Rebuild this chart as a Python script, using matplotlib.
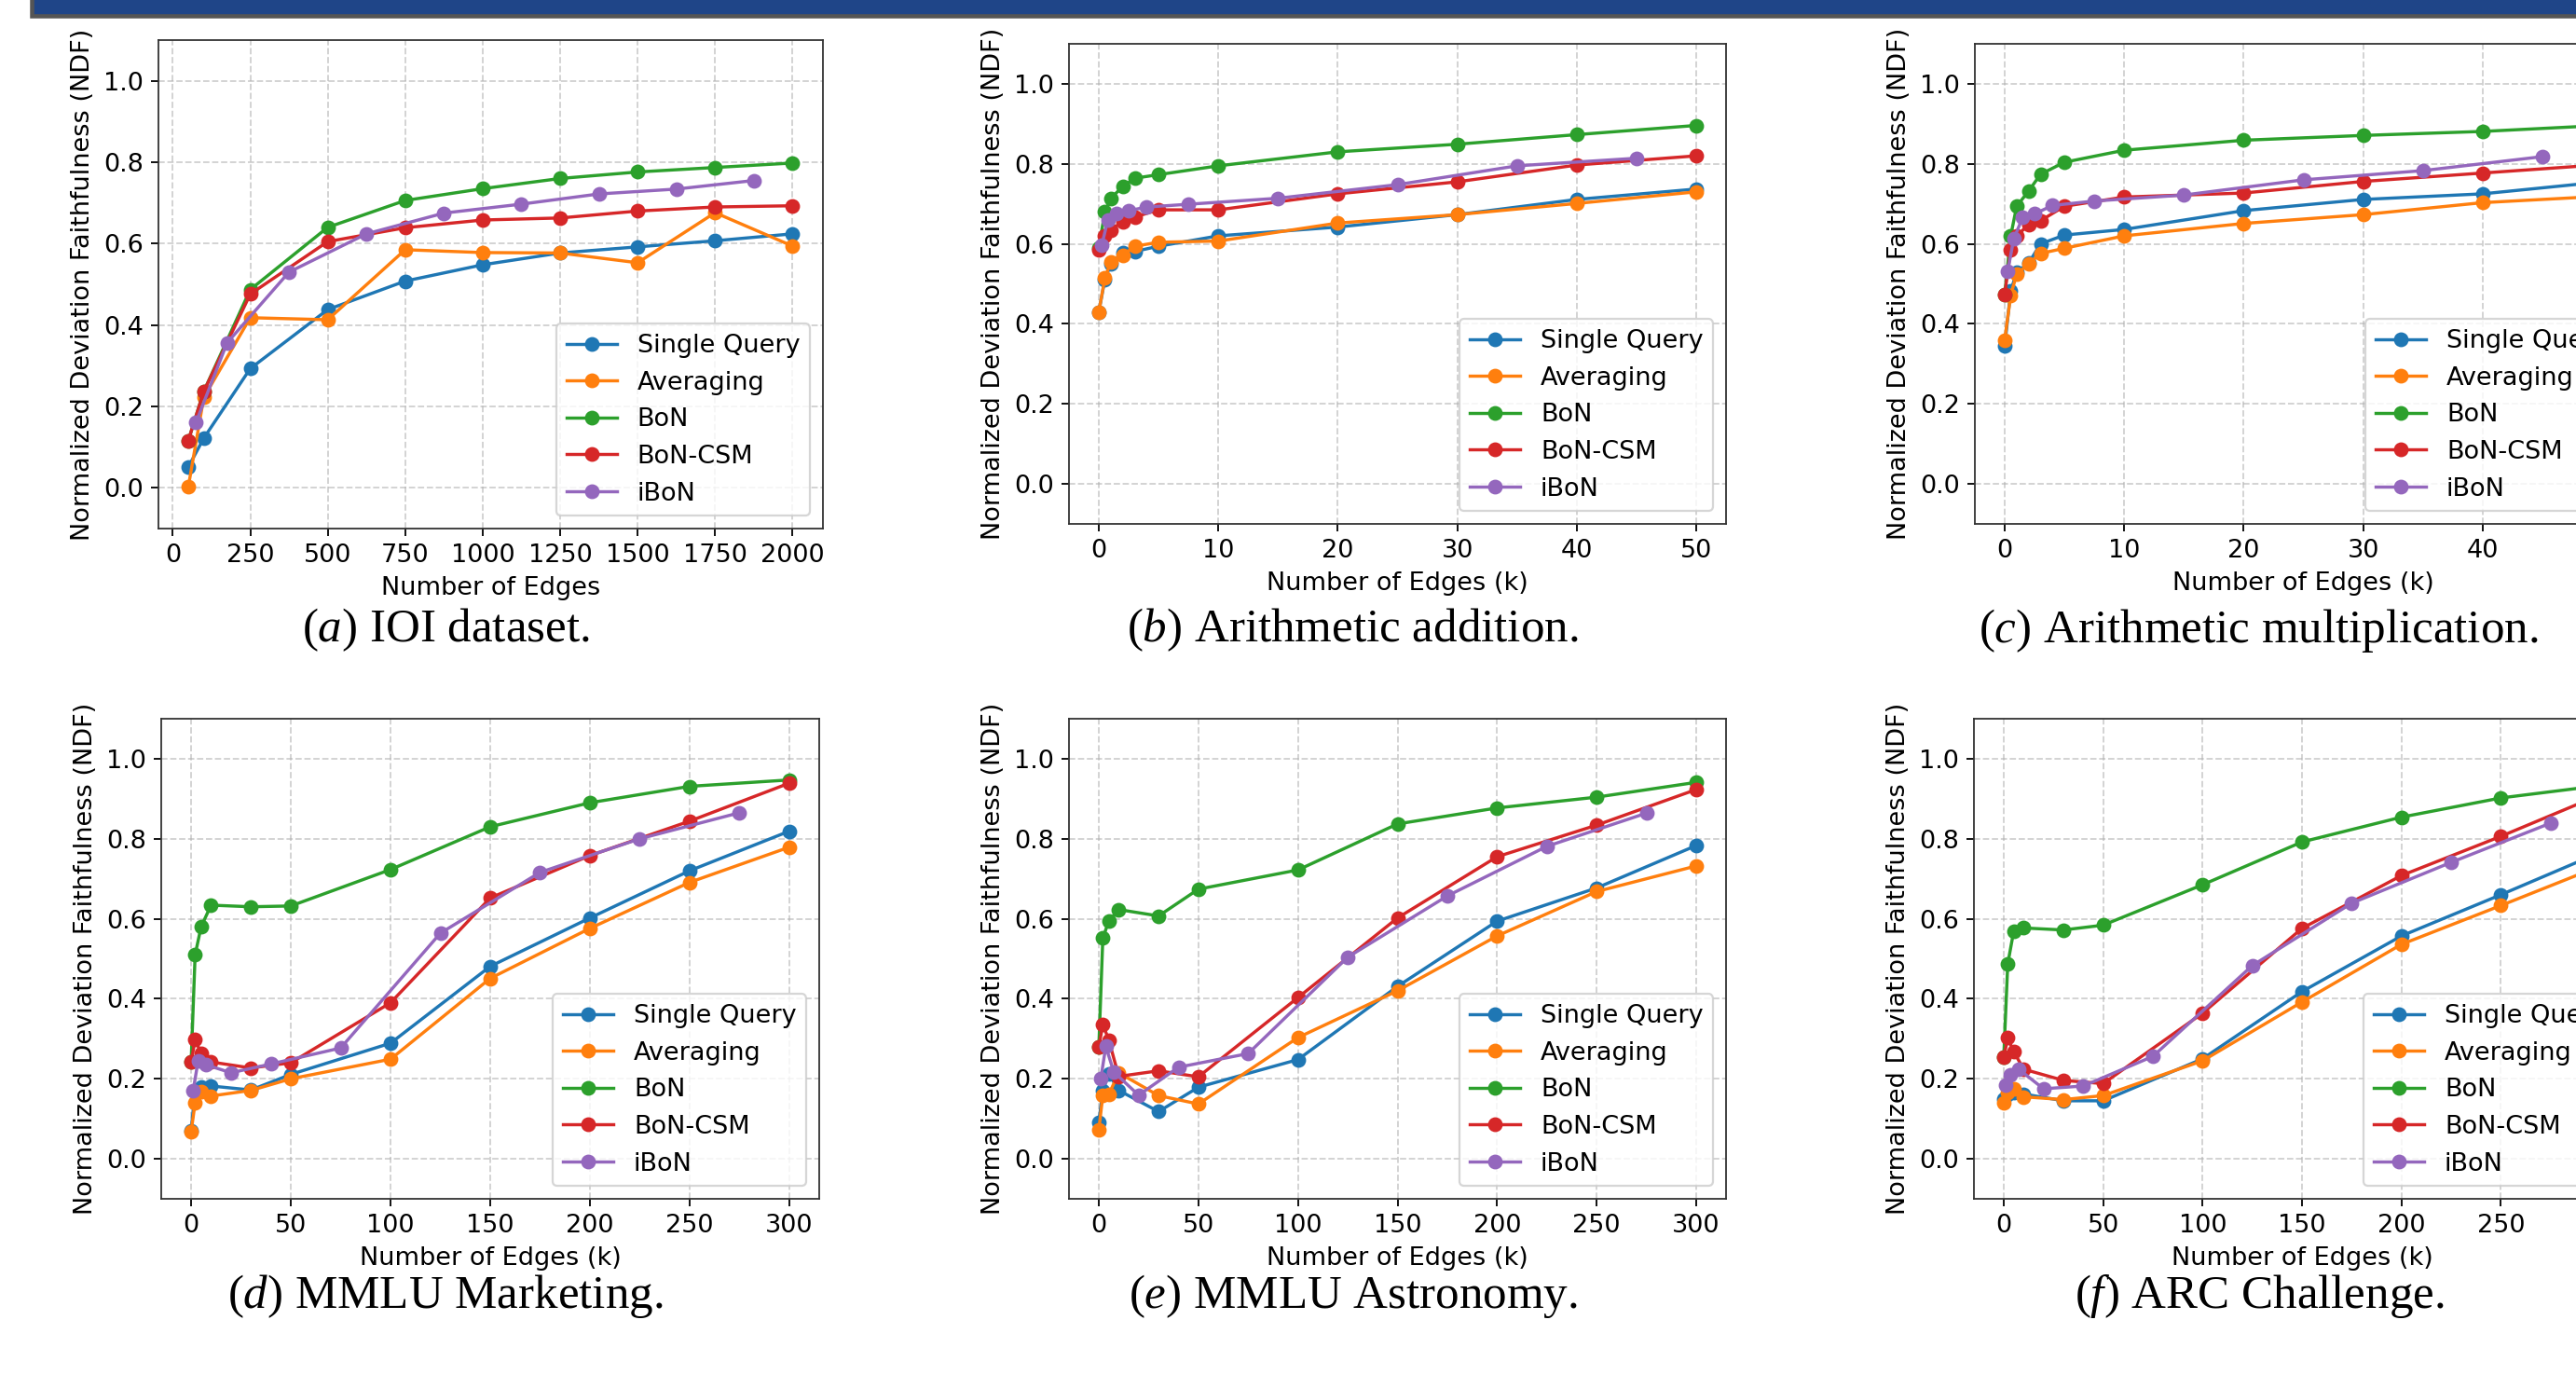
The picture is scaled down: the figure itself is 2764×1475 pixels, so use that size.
import matplotlib
matplotlib.use('Agg')
import matplotlib.pyplot as plt
from matplotlib.patches import Rectangle

plt.rcParams['mathtext.fontset'] = 'custom'
plt.rcParams['mathtext.rm'] = 'Liberation Serif'
plt.rcParams['mathtext.it'] = 'Liberation Serif:italic'

methods = ['Single Query', 'Averaging', 'BoN', 'BoN-CSM', 'iBoN']
colors = ['#1f77b4', '#ff7f0e', '#2ca02c', '#d62728', '#9467bd']

# (a) IOI dataset
ioi_x = [50, 100, 250, 500, 750, 1000, 1250, 1500, 1750, 2000]
ioi_x_ibon = [75, 175, 375, 625, 875, 1125, 1375, 1625, 1875]
ioi_single = [0.051, 0.122, 0.293, 0.438, 0.508, 0.548, 0.577, 0.592, 0.607, 0.624]
ioi_avg = [0.002, 0.222, 0.418, 0.413, 0.585, 0.578, 0.577, 0.553, 0.676, 0.594]
ioi_bon = [0.116, 0.237, 0.487, 0.640, 0.706, 0.735, 0.760, 0.776, 0.787, 0.798]
ioi_csm = [0.116, 0.237, 0.476, 0.605, 0.639, 0.658, 0.663, 0.680, 0.690, 0.693]
ioi_ibon = [0.161, 0.356, 0.530, 0.624, 0.675, 0.697, 0.722, 0.734, 0.755]

# (b) / (c) arithmetic
arith_x = [0, 0.5, 1, 2, 3, 5, 10, 20, 30, 40, 50]
arith_x_ibon = [0.25, 0.75, 1.5, 2.5, 4, 7.5, 15, 25, 35, 45]
add_single = [0.43, 0.511, 0.55, 0.579, 0.581, 0.594, 0.62, 0.642, 0.673, 0.711, 0.737]
add_avg = [0.43, 0.514, 0.555, 0.571, 0.594, 0.604, 0.607, 0.652, 0.673, 0.701, 0.730]
add_bon = [0.59, 0.68, 0.714, 0.743, 0.764, 0.773, 0.795, 0.830, 0.849, 0.873, 0.896]
add_csm = [0.586, 0.62, 0.635, 0.656, 0.667, 0.685, 0.685, 0.725, 0.755, 0.797, 0.820]
add_ibon = [0.597, 0.66, 0.675, 0.683, 0.692, 0.699, 0.714, 0.748, 0.795, 0.814]

mul_single = [0.345, 0.482, 0.529, 0.552, 0.600, 0.622, 0.636, 0.683, 0.711, 0.725, 0.755]
mul_avg = [0.36, 0.472, 0.524, 0.55, 0.576, 0.589, 0.620, 0.651, 0.673, 0.703, 0.719]
mul_bon = [0.474, 0.62, 0.694, 0.732, 0.774, 0.804, 0.834, 0.859, 0.871, 0.881, 0.896]
mul_csm = [0.474, 0.586, 0.62, 0.648, 0.658, 0.694, 0.717, 0.727, 0.756, 0.777, 0.798]
mul_ibon = [0.532, 0.612, 0.666, 0.675, 0.696, 0.707, 0.722, 0.760, 0.783, 0.818]

# (d) / (e) / (f) multiple choice
mc_x = [0, 2, 5, 10, 30, 50, 100, 150, 200, 250, 300]
mc_x_ibon = [1, 3.5, 7.5, 20, 40, 75, 125, 175, 225, 275]
mkt_single = [0.07, 0.17, 0.18, 0.182, 0.172, 0.211, 0.289, 0.481, 0.602, 0.72, 0.819]
mkt_avg = [0.068, 0.14, 0.168, 0.157, 0.171, 0.20, 0.249, 0.451, 0.576, 0.691, 0.779]
mkt_bon = [0.242, 0.51, 0.58, 0.634, 0.63, 0.632, 0.723, 0.83, 0.89, 0.931, 0.947]
mkt_csm = [0.242, 0.298, 0.264, 0.242, 0.227, 0.240, 0.39, 0.652, 0.758, 0.844, 0.939]
mkt_ibon = [0.17, 0.245, 0.235, 0.215, 0.237, 0.277, 0.564, 0.716, 0.80, 0.865]

ast_single = [0.092, 0.17, 0.213, 0.171, 0.118, 0.179, 0.248, 0.431, 0.594, 0.677, 0.783]
ast_avg = [0.073, 0.159, 0.161, 0.215, 0.158, 0.137, 0.303, 0.42, 0.557, 0.668, 0.732]
ast_bon = [0.28, 0.552, 0.594, 0.623, 0.607, 0.674, 0.722, 0.837, 0.877, 0.904, 0.941]
ast_csm = [0.28, 0.336, 0.297, 0.206, 0.22, 0.205, 0.403, 0.602, 0.755, 0.834, 0.923]
ast_ibon = [0.201, 0.281, 0.217, 0.159, 0.229, 0.263, 0.504, 0.657, 0.781, 0.864]

arc_single = [0.149, 0.16, 0.165, 0.162, 0.145, 0.145, 0.25, 0.418, 0.557, 0.66, 0.766]
arc_avg = [0.141, 0.165, 0.176, 0.155, 0.148, 0.158, 0.245, 0.392, 0.536, 0.633, 0.732]
arc_bon = [0.254, 0.487, 0.569, 0.577, 0.572, 0.584, 0.685, 0.792, 0.854, 0.902, 0.933]
arc_csm = [0.254, 0.302, 0.268, 0.224, 0.196, 0.188, 0.364, 0.576, 0.708, 0.806, 0.91]
arc_ibon = [0.184, 0.209, 0.224, 0.175, 0.182, 0.256, 0.483, 0.639, 0.741, 0.839]

W, H = 2764, 1475
DPI = 163

def box(l, r, t, b):
    return [l / W, 1 - b / H, (r - l) / W, (b - t) / H]

def draw(ax, x, x_ibon, series, xticks, xlabel):
    for i in range(4):
        ax.plot(x, series[i], marker='o', color=colors[i], label=methods[i],
                linewidth=1.5, markersize=6)
    ax.plot(x_ibon, series[4], marker='o', color=colors[4], label=methods[4],
            linewidth=1.5, markersize=6)
    ax.set_ylim(-0.1, 1.1)
    ax.set_yticks([0.0, 0.2, 0.4, 0.6, 0.8, 1.0])
    ax.set_xticks(xticks)
    ax.grid(True, linestyle='--', alpha=0.6)
    ax.set_xlabel(xlabel, fontsize=12)
    ax.set_ylabel('Normalized Deviation Faithfulness (NDF)', fontsize=12)
    ax.tick_params(labelsize=12)
    for s in ax.spines.values():
        s.set_edgecolor('#333333')
    ax.legend(loc='lower right', fontsize=12)

fig = plt.figure(figsize=(W / DPI, H / DPI), dpi=DPI)

# dark title bar at the top
fig.add_artist(Rectangle((34 / W, 1 - 17 / H), 1, 22 / H, transform=fig.transFigure,
                         facecolor='#1f4588', edgecolor='#555555', linewidth=2))

panels = [
    (box(169.6, 882.8, 43, 567), ioi_x, ioi_x_ibon,
     [ioi_single, ioi_avg, ioi_bon, ioi_csm, ioi_ibon],
     [0, 250, 500, 750, 1000, 1250, 1500, 1750, 2000], 'Number of Edges',
     (478, 676), r'$\mathit{(a)}$ IOI dataset.'),
    (box(1147, 1852, 47, 562), arith_x, arith_x_ibon,
     [add_single, add_avg, add_bon, add_csm, add_ibon],
     [0, 10, 20, 30, 40, 50], 'Number of Edges (k)',
     (1451, 676), r'$\mathit{(b)}$ Arithmetic addition.'),
    (box(2119, 2824, 47, 562), arith_x, arith_x_ibon,
     [mul_single, mul_avg, mul_bon, mul_csm, mul_ibon],
     [0, 10, 20, 30, 40, 50], 'Number of Edges (k)',
     (2423, 676), r'$\mathit{(c)}$ Arithmetic multiplication.'),
    (box(173, 879, 771, 1286), mc_x, mc_x_ibon,
     [mkt_single, mkt_avg, mkt_bon, mkt_csm, mkt_ibon],
     [0, 50, 100, 150, 200, 250, 300], 'Number of Edges (k)',
     (478, 1391), r'$\mathit{(d)}$ MMLU Marketing.'),
    (box(1147, 1852, 771, 1286), mc_x, mc_x_ibon,
     [ast_single, ast_avg, ast_bon, ast_csm, ast_ibon],
     [0, 50, 100, 150, 200, 250, 300], 'Number of Edges (k)',
     (1452, 1391), r'$\mathit{(e)}$ MMLU Astronomy.'),
    (box(2118, 2822, 771, 1286), mc_x, mc_x_ibon,
     [arc_single, arc_avg, arc_bon, arc_csm, arc_ibon],
     [0, 50, 100, 150, 200, 250, 300], 'Number of Edges (k)',
     (2424, 1391), r'$\mathit{(f)}$ ARC Challenge.'),
]

for pos, x, xi, series, xticks, xlabel, cpos, caption in panels:
    ax = fig.add_axes(pos)
    draw(ax, x, xi, series, xticks, xlabel)
    fig.text(cpos[0] / W, 1 - cpos[1] / H, caption, fontsize=22.5,
             family='Liberation Serif', ha='center', va='center')

fig.savefig('out.png', dpi=DPI)
